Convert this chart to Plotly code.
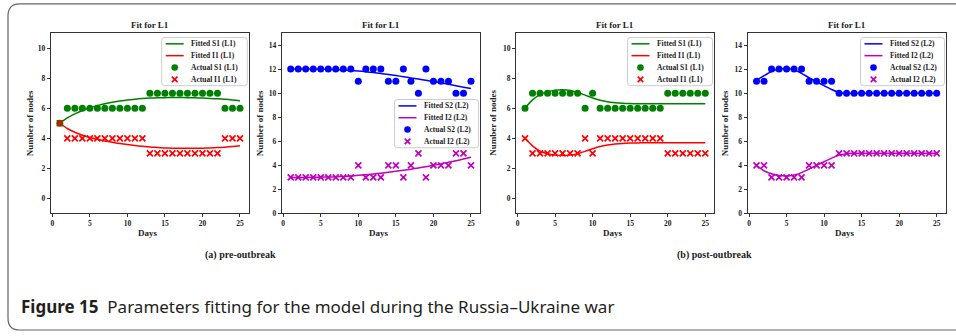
import plotly.graph_objects as go

W, H = 956, 336

days = list(range(1, 26))

# ---- (a) pre-outbreak, layer L1 ----
pre_S1 = [5, 6, 6, 6, 6, 6, 6, 6, 6, 6, 6, 6, 7, 7, 7, 7, 7, 7, 7, 7, 7, 7, 6, 6, 6]
pre_I1 = [5, 4, 4, 4, 4, 4, 4, 4, 4, 4, 4, 4, 3, 3, 3, 3, 3, 3, 3, 3, 3, 3, 4, 4, 4]
pre_fit_S1 = [5.0, 5.35, 5.62, 5.85, 6.02, 6.17, 6.3, 6.4, 6.48, 6.55, 6.6, 6.64, 6.67,
              6.69, 6.7, 6.71, 6.71, 6.7, 6.69, 6.67, 6.65, 6.62, 6.59, 6.55, 6.5]
pre_fit_I1 = [5.0, 4.65, 4.4, 4.2, 4.05, 3.93, 3.82, 3.73, 3.65, 3.58, 3.52, 3.47, 3.42,
              3.39, 3.36, 3.34, 3.33, 3.33, 3.33, 3.34, 3.36, 3.38, 3.41, 3.45, 3.5]

# ---- (a) pre-outbreak, layer L2 ----
pre_S2 = [12, 12, 12, 12, 12, 12, 12, 12, 12, 11, 12, 12, 12, 11, 11, 12, 11, 10, 12, 11, 11, 11, 10, 10, 11]
pre_I2 = [3, 3, 3, 3, 3, 3, 3, 3, 3, 4, 3, 3, 3, 4, 4, 3, 4, 5, 3, 4, 4, 4, 5, 5, 4]
pre_fit_S2 = [12.0, 12.0, 12.0, 12.0, 11.99, 11.98, 11.96, 11.93, 11.89, 11.84, 11.78, 11.71,
              11.63, 11.55, 11.46, 11.37, 11.27, 11.17, 11.07, 10.96, 10.85, 10.74, 10.62, 10.5, 10.38]
pre_fit_I2 = [3.0, 3.0, 3.0, 3.01, 3.02, 3.03, 3.05, 3.08, 3.12, 3.17, 3.22, 3.28, 3.35,
              3.42, 3.5, 3.59, 3.68, 3.78, 3.89, 4.0, 4.12, 4.25, 4.38, 4.52, 4.67]

# ---- (b) post-outbreak, layer L1 ----
post_S1 = [6, 7, 7, 7, 7, 7, 7, 7, 6, 7, 6, 6, 6, 6, 6, 6, 6, 6, 6, 7, 7, 7, 7, 7, 7]
post_I1 = [4, 3, 3, 3, 3, 3, 3, 3, 4, 3, 4, 4, 4, 4, 4, 4, 4, 4, 4, 3, 3, 3, 3, 3, 3]
post_fit_S1 = [6.0, 6.55, 6.9, 7.1, 7.2, 7.22, 7.18, 7.05, 6.87, 6.68, 6.53, 6.43, 6.37,
               6.33, 6.31, 6.3, 6.3, 6.3, 6.3, 6.3, 6.3, 6.3, 6.3, 6.3, 6.3]
post_fit_I1 = [4.0, 3.5, 3.15, 2.97, 2.88, 2.85, 2.88, 2.98, 3.13, 3.3, 3.45, 3.55, 3.62,
               3.66, 3.68, 3.69, 3.7, 3.7, 3.7, 3.7, 3.7, 3.7, 3.7, 3.7, 3.7]

# ---- (b) post-outbreak, layer L2 ----
post_S2 = [11, 11, 12, 12, 12, 12, 12, 11, 11, 11, 11, 10, 10, 10, 10, 10, 10, 10, 10, 10, 10, 10, 10, 10, 10]
post_I2 = [4, 4, 3, 3, 3, 3, 3, 4, 4, 4, 4, 5, 5, 5, 5, 5, 5, 5, 5, 5, 5, 5, 5, 5, 5]
post_fit_S2 = [11.05, 11.45, 11.8, 12.0, 12.05, 11.95, 11.65, 11.28, 10.95, 10.62, 10.3, 10.06,
               9.99, 9.98, 9.99, 10.0, 10.0, 10.0, 10.0, 10.0, 10.0, 10.0, 10.0, 10.0, 10.0]
post_fit_I2 = [4.0, 3.55, 3.3, 3.15, 3.12, 3.2, 3.4, 3.7, 4.0, 4.3, 4.6, 4.85, 4.97,
               5.0, 5.0, 5.0, 5.0, 5.0, 5.0, 5.0, 5.0, 5.0, 5.0, 5.0, 5.0]

x_ticks = [0, 5, 10, 15, 20, 25]
y_ticks_L1 = [0, 2, 4, 6, 8, 10]
y_ticks_L2 = [0, 2, 4, 6, 8, 10, 12, 14]

panel_title = "Fit for L1"
sub_a = "(a) pre-outbreak"
sub_b = "(b) post-outbreak"
caption_bold = "Figure 15"
caption_rest = "Parameters fitting for the model during the Russia–Ukraine war"

GREEN = "#008000"
RED = "#ff0000"
BLUE = "#0000ff"
MAGENTA = "#bf00bf"

SERIF = "Liberation Serif"
TXT = "#222222"

# panel geometry in pixels (left, right)
panels_px = [(50.8, 249.0), (281.7, 480.0), (516.0, 714.3), (747.5, 945.7)]
top_px, bot_px = 33.5, 216.7


def px(x):
    return x / W


def py(y):
    return 1 - y / H


def P(x, y):
    return f"{px(x):.5f},{py(y):.5f}"


fig = go.Figure()

panels = [
    dict(fit_s=pre_fit_S1, fit_i=pre_fit_I1, act_s=pre_S1, act_i=pre_I1,
         names=("Fitted S1 (L1)", "Fitted I1 (L1)", "Actual S1 (L1)", "Actual I1 (L1)"),
         cs=GREEN, ci=RED, yr=[-1, 11], yt=y_ticks_L1, leg=(161.7, 38.0, 85.6)),
    dict(fit_s=pre_fit_S2, fit_i=pre_fit_I2, act_s=pre_S2, act_i=pre_I2,
         names=("Fitted S2 (L2)", "Fitted I2 (L2)", "Actual S2 (L2)", "Actual I2 (L2)"),
         cs=BLUE, ci=MAGENTA, yr=[0, 15], yt=y_ticks_L2, leg=(394.5, 101.0, 84.0)),
    dict(fit_s=post_fit_S1, fit_i=post_fit_I1, act_s=post_S1, act_i=post_I1,
         names=("Fitted S1 (L1)", "Fitted I1 (L1)", "Actual S1 (L1)", "Actual I1 (L1)"),
         cs=GREEN, ci=RED, yr=[-1, 11], yt=y_ticks_L1, leg=(627.5, 38.0, 85.0)),
    dict(fit_s=post_fit_S2, fit_i=post_fit_I2, act_s=post_S2, act_i=post_I2,
         names=("Fitted S2 (L2)", "Fitted I2 (L2)", "Actual S2 (L2)", "Actual I2 (L2)"),
         cs=BLUE, ci=MAGENTA, yr=[0, 15], yt=y_ticks_L2, leg=(860.5, 38.0, 84.0)),
]

layout_extra = {}
annotations = []
shapes = []
ylabel_x = [30.0, 260.0, 493.5, 725.0]

for k, p in enumerate(panels):
    idx = "" if k == 0 else str(k + 1)
    xa, ya = "x" + idx, "y" + idx
    fig.add_trace(go.Scatter(x=days, y=p["fit_s"], mode="lines", name=p["names"][0],
                             line=dict(color=p["cs"], width=1.5, shape="spline", smoothing=0.8),
                             xaxis=xa, yaxis=ya, showlegend=False))
    fig.add_trace(go.Scatter(x=days, y=p["fit_i"], mode="lines", name=p["names"][1],
                             line=dict(color=p["ci"], width=1.5, shape="spline", smoothing=0.8),
                             xaxis=xa, yaxis=ya, showlegend=False))
    fig.add_trace(go.Scatter(x=days, y=p["act_s"], mode="markers", name=p["names"][2],
                             marker=dict(color=p["cs"], size=7, symbol="circle", line=dict(width=0)),
                             xaxis=xa, yaxis=ya, showlegend=False))
    fig.add_trace(go.Scatter(x=days, y=p["act_i"], mode="markers", name=p["names"][3],
                             marker=dict(color=p["ci"], size=6, symbol="x-thin",
                                         line=dict(color=p["ci"], width=1.7)),
                             xaxis=xa, yaxis=ya, showlegend=False))
    l, r = panels_px[k]
    axis_common = dict(showline=True, mirror=True, linecolor="#333333", linewidth=1,
                       ticks="outside", ticklen=3, tickwidth=1, tickcolor="#333333",
                       showgrid=False, zeroline=False,
                       tickfont=dict(family=SERIF, size=7.5, color=TXT, weight="bold"))
    layout_extra["xaxis" + idx] = dict(domain=[px(l), px(r)], range=[-0.2, 26.2],
                                       tickvals=x_ticks, anchor=ya, **axis_common)
    layout_extra["yaxis" + idx] = dict(domain=[py(bot_px), py(top_px)], range=p["yr"],
                                       tickvals=p["yt"], anchor=xa, **axis_common)

    # ---- legend box (matplotlib style) ----
    L0, T0, LW = p["leg"]
    LH = 49.0
    rr = 3.0
    R0, B0 = L0 + LW, T0 + LH
    box = (f"M {P(L0 + rr, T0)} L {P(R0 - rr, T0)} Q {P(R0, T0)} {P(R0, T0 + rr)} "
           f"L {P(R0, B0 - rr)} Q {P(R0, B0)} {P(R0 - rr, B0)} L {P(L0 + rr, B0)} "
           f"Q {P(L0, B0)} {P(L0, B0 - rr)} L {P(L0, T0 + rr)} Q {P(L0, T0)} {P(L0 + rr, T0)} Z")
    shapes.append(dict(type="path", path=box, xref="paper", yref="paper", layer="above",
                       fillcolor="rgba(255,255,255,0.85)", line=dict(color="#cccccc", width=1)))
    rows = [T0 + 6.5 + 12 * i for i in range(4)]
    hx0, hx1 = L0 + 4, L0 + 22
    hc = (hx0 + hx1) / 2
    for i, col in enumerate([p["cs"], p["ci"]]):
        shapes.append(dict(type="line", xref="paper", yref="paper", layer="above",
                           x0=px(hx0), x1=px(hx1), y0=py(rows[i]), y1=py(rows[i]),
                           line=dict(color=col, width=1.5)))
    rad = 3.3
    shapes.append(dict(type="circle", xref="paper", yref="paper", layer="above",
                       x0=px(hc - rad), x1=px(hc + rad), y0=py(rows[2] + rad), y1=py(rows[2] - rad),
                       fillcolor=p["cs"], line=dict(width=0)))
    d = 2.8
    yc = rows[3]
    xpath = (f"M {P(hc - d, yc - d)} L {P(hc + d, yc + d)} M {P(hc - d, yc + d)} L {P(hc + d, yc - d)}")
    shapes.append(dict(type="path", path=xpath, xref="paper", yref="paper", layer="above",
                       line=dict(color=p["ci"], width=1.7)))
    for i in range(4):
        annotations.append(dict(text=p["names"][i], x=px(L0 + 27.5), y=py(rows[i]),
                                xref="paper", yref="paper", showarrow=False,
                                xanchor="left", yanchor="middle",
                                font=dict(family=SERIF, size=7.5, color=TXT, weight="bold")))

    cx = (l + r) / 2
    annotations.append(dict(text=panel_title, x=px(cx), y=py(25), xref="paper", yref="paper",
                            showarrow=False, xanchor="center", yanchor="middle",
                            font=dict(family=SERIF, size=9, color=TXT, weight="bold")))
    annotations.append(dict(text="Days", x=px(cx - 2), y=py(236.5), xref="paper", yref="paper",
                            showarrow=False, xanchor="center", yanchor="middle",
                            font=dict(family=SERIF, size=9, color=TXT, weight="bold")))
    annotations.append(dict(text="Number of nodes", x=px(ylabel_x[k]), y=py((top_px + bot_px) / 2),
                            xref="paper", yref="paper", showarrow=False, textangle=-90,
                            xanchor="center", yanchor="middle",
                            font=dict(family=SERIF, size=9, color=TXT, weight="bold")))

annotations.append(dict(text=sub_a, x=px(240), y=py(259), xref="paper", yref="paper",
                        showarrow=False, xanchor="center", yanchor="middle",
                        font=dict(family=SERIF, size=10, color=TXT, weight="bold")))
annotations.append(dict(text=sub_b, x=px(714), y=py(259), xref="paper", yref="paper",
                        showarrow=False, xanchor="center", yanchor="middle",
                        font=dict(family=SERIF, size=10, color=TXT, weight="bold")))
annotations.append(dict(text="<b>" + caption_bold + "</b>  " + caption_rest,
                        x=px(19), y=py(311), xref="paper", yref="paper",
                        showarrow=False, xanchor="left", yanchor="middle",
                        font=dict(family="Noto Sans", size=17, color="#231f20")))

# rounded border of the figure box (left side visible)
border = (f"M {P(960, 4)} L {P(20, 4)} Q {P(8, 4)} {P(8, 16)} L {P(8, 323)} "
          f"Q {P(8, 335)} {P(20, 335)} L {P(960, 335)}")
shapes.insert(0, dict(type="path", path=border, xref="paper", yref="paper",
                      line=dict(color="#666666", width=1.2)))

fig.update_layout(
    width=W, height=H, margin=dict(l=0, r=0, t=0, b=0),
    paper_bgcolor="white", plot_bgcolor="white",
    showlegend=False,
    annotations=annotations,
    shapes=shapes,
    **layout_extra,
)

fig.write_html("out.html")
